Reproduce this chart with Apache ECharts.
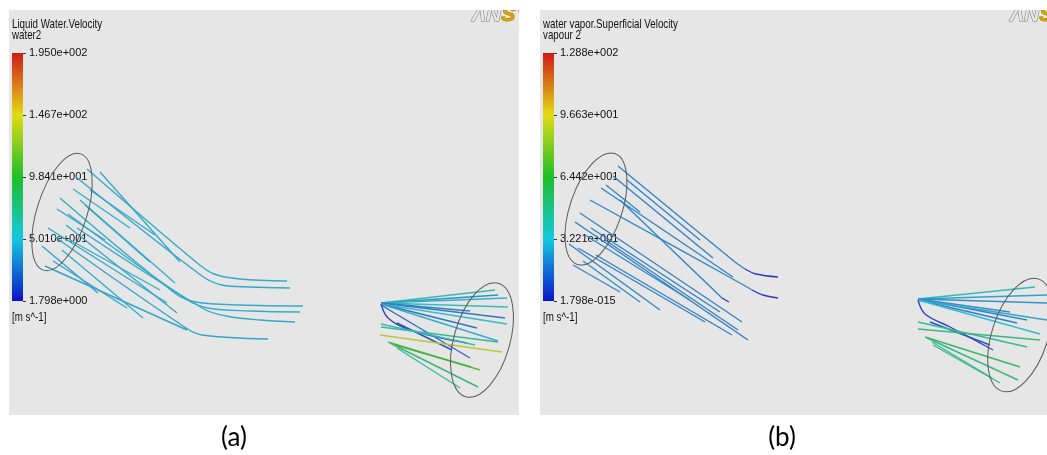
<!DOCTYPE html>
<html><head><meta charset="utf-8">
<script src="https://cdn.jsdelivr.net/npm/echarts@6/dist/echarts.min.js"></script>
<style>html,body{margin:0;padding:0;background:#fff;}#c{width:1047px;height:455px;}</style>
</head><body><div id="c"></div><script>
// ---------------- data ----------------
const titleA = ['Liquid Water.Velocity', 'water2'];
const titleB = ['water vapor.Superficial Velocity', 'vapour 2'];
const ticksA = ['1.950e+002', '1.467e+002', '9.841e+001', '5.010e+001', '1.798e+000'];
const ticksB = ['1.288e+002', '9.663e+001', '6.442e+001', '3.221e+001', '1.798e-015'];
const unitLabel = '[m s^-1]';
const captions = ['(a)', '(b)'];
const rangeA = [1.798, 195.0];
const rangeB = [1.798e-15, 128.8];

// streamlines of panel (a): image-space points
const streamsA = [
  [[87,169],[196,262],[214,274],[240,279],[287,281]],
  [[76,177],[202,276],[222,285],[250,287],[290,288]],
  [[60,198],[176,294],[196,302],[240,305],[303,306]],
  [[68,214],[186,299],[208,308],[250,311],[300,312]],
  [[77,228],[204,309],[226,316],[260,320],[295,322]],
  [[55,237],[186,328],[202,335],[268,339]],
  [[73,189],[130,228]],
  [[57,209],[105,240]],
  [[42,246],[98,293]],
  [[53,261],[127,308]],
  [[62,250],[143,318]],
  [[48,228],[167,303]],
  [[80,200],[175,283]],
  [[100,172],[180,262]],
  [[66,225],[177,313]],
  [[45,266],[187,330]],
  [[70,240],[160,290]],
  [[90,190],[155,235]],
  [[85,205],[150,262]],
  // cone
  [[381,303],[495,290]],
  [[381,303],[498,295]],
  [[381,303],[507,298]],
  [[381,303],[508,307]],
  [[381,303],[470,311]],
  [[381,303],[505,318]],
  [[381,304],[507,324]],
  [[381,304],[477,328]],
  [[381,304],[498,341]],
  [[381,304],[388,318],[410,330],[467,343]],
  [[397,323],[452,350]],
  [[381,305],[470,358]],
  [[381,327],[498,342]],
  [[380,335],[502,352]],
  [[388,342],[480,370]],
  [[390,343],[478,387]],
  [[395,345],[471,367]],
  [[397,348],[460,388]],
  [[381,324],[475,345]]
];
const speedA = [
  44,43,44,45,43,42,46,43,41,44,45,43,46,44,43,42,45,44,43,
  62,34,46,56,30,26,52,24,45,8,12,20,70,140,112,82,100,66,60
];

// streamlines of panel (b)
const streamsB = [
  [[618,166],[735,262],[745,269]],
  [[745,269],[756,274],[778,277]],
  [[613,176],[713,258]],
  [[601,188],[733,277]],
  [[590,200],[740,283],[752,290]],
  [[752,290],[763,295],[778,298]],
  [[580,213],[742,322]],
  [[575,222],[748,340]],
  [[585,235],[690,300]],
  [[578,248],[705,322]],
  [[569,244],[660,310]],
  [[583,261],[640,302]],
  [[596,255],[732,335]],
  [[606,185],[640,212]],
  [[620,200],[722,298]],
  [[722,298],[729,302]],
  [[591,228],[720,312]],
  [[573,265],[620,292]],
  [[605,240],[738,330]],
  [[627,180],[700,240]],
  // cone
  [[918,299],[1035,287]],
  [[918,299],[1047,295]],
  [[918,299],[1047,303]],
  [[918,299],[1010,312]],
  [[918,299],[1027,320]],
  [[918,300],[1017,323]],
  [[918,300],[1047,320]],
  [[918,300],[1040,334]],
  [[918,300],[925,314],[950,327],[993,350]],
  [[930,322],[990,345]],
  [[918,322],[1027,347]],
  [[918,329],[1040,340]],
  [[925,337],[1020,367]],
  [[927,338],[1018,380]],
  [[932,342],[992,378]],
  [[933,345],[1000,383]]
];
const speedB = [
  19,1,18,19,20,1,19,17,20,18,19,21,18,20,19,1,18,20,19,19,
  38,26,22,22,20,18,26,32,5,8,44,50,56,50,44,47
];

// ellipse annotations: [cx, cy, semi-minor, semi-major, tilt deg]
const ellipses = [
  [62,212,25,61,17.7],
  [482,340,28,59,16],
  [596,209,26,58.5,18.7],
  [1020,335,28,59,18]
];

// ---------------- rendering ----------------
const stops = [[0,[10,20,200]],[0.25,[20,200,225]],[0.5,[30,190,40]],[0.75,[225,220,20]],[1,[210,25,25]]];
function colorFor(v, range) {
  let t = (v - range[0]) / (range[1] - range[0]);
  t = Math.max(0, Math.min(1, t));
  let c = stops[stops.length-1][1];
  for (let i = 0; i < stops.length-1; i++) {
    const [t0,c0] = stops[i], [t1,c1] = stops[i+1];
    if (t >= t0 && t <= t1) {
      const f = (t - t0) / (t1 - t0);
      c = c0.map((x,k) => x + (c1[k]-x)*f);
      break;
    }
  }
  const m = c.map(x => Math.round(x*0.75 + 150*0.25));
  return 'rgb(' + m.join(',') + ')';
}
const barGradient = new echarts.graphic.LinearGradient(0,0,0,1,
  stops.slice().reverse().map(s => ({offset: 1 - s[0], color: 'rgb(' + s[1].join(',') + ')'})));

const sans = "'Liberation Sans',Arial,sans-serif";
const series = [];
function addStreams(list, speeds, range) {
  list.forEach((pts, i) => {
    series.push({
      type: 'line', xAxisIndex: 0, yAxisIndex: 0, data: pts,
      smooth: 0.35, showSymbol: false, silent: true, clip: false,
      lineStyle: {width: 1.4, color: colorFor(speeds[i], range)}, z: 3
    });
  });
}
addStreams(streamsA, speedA, rangeA);
addStreams(streamsB, speedB, rangeB);
[1, 2].forEach(g => series.push({
  type: 'bar', xAxisIndex: g, yAxisIndex: g, data: [4], barWidth: '100%',
  itemStyle: {color: barGradient}, silent: true
}));

function cbAxis(grid, labels) {
  return {gridIndex: grid, type: 'value', min: 0, max: 4, interval: 1, position: 'right',
    axisLine: {show: false}, splitLine: {show: false},
    axisTick: {show: true, length: 3, lineStyle: {color: '#333'}},
    axisLabel: {margin: 6, color: '#111', fontSize: 11, fontFamily: sans,
      formatter: v => labels[4 - v]}};
}

const chart = echarts.init(document.getElementById('c'), null, {renderer: 'canvas'});
chart.setOption({
  animation: false,
  backgroundColor: '#ffffff',
  grid: [
    {left: 0, top: 0, width: 1047, height: 455},
    {left: 12, top: 53, width: 11, height: 248},
    {left: 543, top: 53, width: 11, height: 248}
  ],
  xAxis: [
    {gridIndex: 0, type: 'value', min: 0, max: 1047, show: false},
    {gridIndex: 1, type: 'category', data: ['v'], show: false},
    {gridIndex: 2, type: 'category', data: ['v'], show: false}
  ],
  yAxis: [
    {gridIndex: 0, type: 'value', min: 0, max: 455, inverse: true, show: false},
    cbAxis(1, ticksA),
    cbAxis(2, ticksB)
  ],
  series: series
});

function txt(x, y, s, size) {
  return {type: 'text', x: x, y: y, z: 50, scaleX: 0.75,
    style: {text: s, fill: '#111', font: size + 'px ' + sans, textVerticalAlign: 'middle'}};
}
const logoRich = {
  g: {fill: '#e6e6e6', stroke: '#777', lineWidth: 1, fontSize: 21, fontWeight: 'bold', fontStyle: 'italic', fontFamily: 'Liberation Sans'},
  y: {fill: '#d2a800', stroke: '#9a7a00', lineWidth: 1, fontSize: 21, fontWeight: 'bold', fontStyle: 'italic', fontFamily: 'Liberation Sans'}
};
const ell = ellipses.map(e => {
  const p = chart.convertToPixel({gridIndex: 0}, [e[0], e[1]]);
  return {type: 'ellipse', x: p[0], y: p[1], rotation: -e[4] * Math.PI / 180, z: 20,
    shape: {cx: 0, cy: 0, rx: e[2], ry: e[3]},
    style: {fill: 'none', stroke: '#5a5a5a', lineWidth: 1}};
});
const cap = {font: '26px Lato, sans-serif', textAlign: 'center', fill: '#000', textVerticalAlign: 'middle'};
chart.setOption({
  graphic: [
    {type: 'rect', z: -10, shape: {x: 9, y: 10, width: 510, height: 405}, style: {fill: '#e6e6e6'}},
    {type: 'rect', z: -10, shape: {x: 540, y: 10, width: 507, height: 405}, style: {fill: '#e6e6e6'}},
    {type: 'text', x: 472, y: 15, z: 60, style: {text: '{g|ΛN}{y|S}{g|Y}', rich: logoRich, textVerticalAlign: 'middle'}},
    {type: 'text', x: 1010, y: 15, z: 60, style: {text: '{g|ΛN}{y|S}{g|YS}', rich: logoRich, textVerticalAlign: 'middle'}},
    {type: 'rect', z: 70, shape: {x: 0, y: 0, width: 1047, height: 10}, style: {fill: '#fff'}},
    {type: 'rect', z: 70, shape: {x: 519, y: 0, width: 21, height: 415}, style: {fill: '#fff'}},
    txt(12, 24, titleA[0], 13), txt(12, 35, titleA[1], 13),
    txt(543, 24, titleB[0], 13), txt(543, 35, titleB[1], 13),
    txt(12, 317, unitLabel, 13), txt(543, 317, unitLabel, 13),
    {type: 'text', x: 234, y: 438, z: 50, style: Object.assign({text: captions[0]}, cap)},
    {type: 'text', x: 782, y: 438, z: 50, style: Object.assign({text: captions[1]}, cap)}
  ].concat(ell)
});
</script></body></html>
